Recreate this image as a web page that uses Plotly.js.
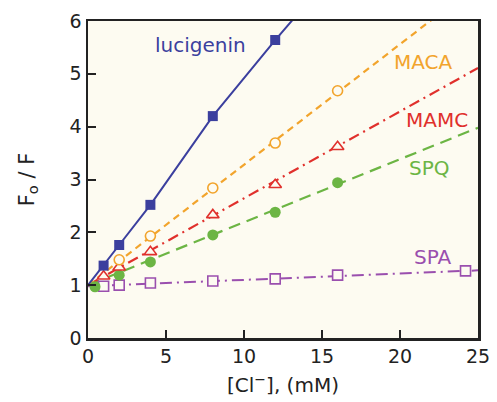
<!DOCTYPE html>
<html>
<head>
<meta charset="utf-8">
<script src="https://cdn.plot.ly/plotly-3.0.1.min.js"></script>
<style>html,body{margin:0;padding:0;background:#fff;}#chart{width:497px;height:402px;}</style>
</head>
<body>
<div id="chart"></div>
<script>
// Data
var lucX = [1, 2, 4, 8, 12];
var lucY = [1.37, 1.76, 2.52, 4.2, 5.64];
var lucLineX = [0, 1, 2, 4, 8, 12, 13.2];
var lucLineY = [1.0, 1.37, 1.76, 2.52, 4.2, 5.64, 6.05];

var macaX = [2, 4, 8, 12, 16];
var macaY = [1.48, 1.93, 2.84, 3.69, 4.68];
var macaLineX = [0, 25];
var macaLineY = [1.0, 6.7];

var mamcX = [1, 2, 4, 8, 12, 16];
var mamcY = [1.17, 1.34, 1.63, 2.33, 2.9, 3.62];
var mamcLineX = [0, 25];
var mamcLineY = [1.0, 5.11];

var spqX = [0.45, 2, 4, 8, 12, 16];
var spqY = [0.97, 1.19, 1.44, 1.95, 2.38, 2.94];
var spqLineX = [0, 25];
var spqLineY = [1.0, 3.98];

var spaX = [1, 2, 4, 8, 12, 16, 24.2];
var spaY = [0.98, 1.0, 1.04, 1.08, 1.12, 1.19, 1.27];
var spaLineX = [0, 25];
var spaLineY = [0.98, 1.28];

var labelNames = ['lucigenin', 'MACA', 'MAMC', 'SPQ', 'SPA'];
var labelX = [7.2, 21.5, 22.4, 21.9, 22.1];
var labelY = [5.55, 5.23, 4.13, 3.22, 1.54];

var xTicks = [0, 5, 10, 15, 20, 25];
var yTicks = [0, 1, 2, 3, 4, 5, 6];

var cBlue = '#3b3f9e', cOrange = '#f2a42c', cRed = '#e0302c', cGreen = '#6cb544', cPurple = '#9a4fae';
var FONT = 'DejaVu Sans, sans-serif';

function line(x, y, color, dash, w) {
  return {x: x, y: y, mode: 'lines', type: 'scatter', hoverinfo: 'skip',
    line: {color: color, width: w || 2, dash: dash}, showlegend: false};
}
function pts(x, y, color, symbol, size, open) {
  return {x: x, y: y, mode: 'markers', type: 'scatter', showlegend: false,
    marker: {symbol: symbol, size: size, color: open ? '#fdfbf1' : color,
      line: {color: color, width: open ? 1.6 : 0}}};
}

var traces = [
  line(spaLineX, spaLineY, cPurple, '12px,5px,2px,5px', 2),
  line(spqLineX, spqLineY, cGreen, '12px,7px', 2.2),
  line(mamcLineX, mamcLineY, cRed, '11px,5px,2px,5px', 2.2),
  line(macaLineX, macaLineY, cOrange, '7px,5px', 2.2),
  line(lucLineX, lucLineY, cBlue, 'solid', 2),
  pts(spaX, spaY, cPurple, 'square', 10, true),
  pts(spqX, spqY, cGreen, 'circle', 11, false),
  pts(mamcX, mamcY, cRed, 'triangle-up', 11, true),
  pts(macaX, macaY, cOrange, 'circle', 10, true),
  pts(lucX, lucY, cBlue, 'square', 10, false)
];

var labelColors = [cBlue, cOrange, cRed, cGreen, cPurple];
var annotations = labelNames.map(function (t, i) {
  return {x: labelX[i], y: labelY[i], xref: 'x', yref: 'y', text: t, showarrow: false,
    font: {family: FONT, size: 20, color: labelColors[i]}};
});

var layout = {
  width: 497, height: 402,
  margin: {l: 88, r: 19, t: 21, b: 64},
  paper_bgcolor: '#ffffff',
  plot_bgcolor: '#fdfbf1',
  font: {family: FONT, size: 18, color: '#222'},
  xaxis: {range: [0, 25], tickvals: xTicks, ticktext: xTicks.map(String),
    ticks: 'inside', ticklen: 8, tickwidth: 2, tickcolor: '#222',
    showline: true, linewidth: 2.5, linecolor: '#222', mirror: true,
    showgrid: false, zeroline: false,
    tickfont: {family: FONT, size: 19, color: '#222'},
    title: {text: '[Cl<sup>−</sup>], (mM)', font: {family: FONT, size: 20, color: '#222'}, standoff: 12}},
  yaxis: {range: [0, 6], tickvals: yTicks, ticktext: yTicks.map(String),
    ticks: 'inside', ticklen: 8, tickwidth: 2, tickcolor: '#222',
    showline: true, linewidth: 2.5, linecolor: '#222', mirror: true,
    showgrid: false, zeroline: false,
    tickfont: {family: FONT, size: 19, color: '#222'},
    title: {text: 'F<sub>o</sub> / F', font: {family: FONT, size: 21, color: '#222'}, standoff: 30}},
  annotations: annotations
};

Plotly.newPlot('chart', traces, layout, {displayModeBar: false, staticPlot: true});
</script>
</body>
</html>
